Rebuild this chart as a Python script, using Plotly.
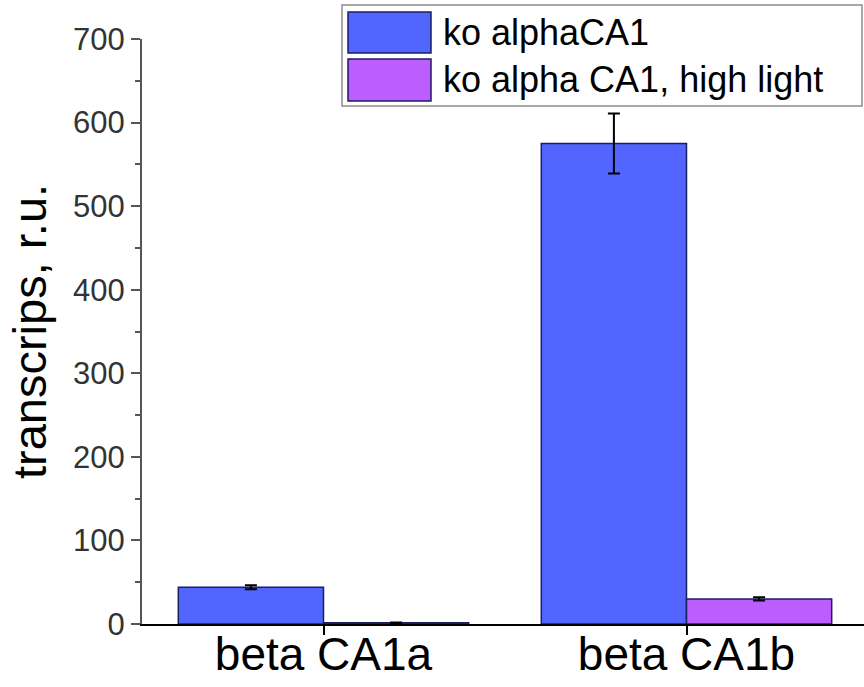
import plotly.graph_objects as go

# Data
categories = ["beta CA1a", "beta CA1b"]
series_names = ["ko alphaCA1", "ko alpha CA1, high light"]
ko_values = [44, 575]
ko_errors = [2.5, 36]
high_light_values = [1.5, 30]
high_light_errors = [0.4, 2]
y_ticks = [0, 100, 200, 300, 400, 500, 600, 700]

colors = ["#5266FF", "#BC5EFF"]
outline = "#1C1F5E"

# Figure geometry (pixels)
W, H = 864, 687
L, R, T, B = 142, 0, 39, 63
PW, PH = W - L - R, H - T - B


def px_x(p):
    return (p - L) / PW


def px_y(p):
    return (H - B - p) / PH


fig = go.Figure()
for name, vals, errs, col in [
    (series_names[0], ko_values, ko_errors, colors[0]),
    (series_names[1], high_light_values, high_light_errors, colors[1]),
]:
    fig.add_trace(go.Bar(
        x=categories, y=vals, name=name,
        marker=dict(color=col, line=dict(color=outline, width=1.5)),
        error_y=dict(type="data", array=errs, visible=True,
                     color="black", thickness=2, width=6),
        showlegend=False,
    ))

# Legend box drawn with shapes and text
shapes = [dict(type="rect", xref="paper", yref="paper",
               x0=px_x(342), x1=px_x(862), y0=px_y(106), y1=px_y(5),
               line=dict(color="#8C8C8C", width=1.5), fillcolor="white",
               layer="above")]
annotations = []
rows = [(12, 53), (59, 101)]
for (top, bot), name, col in zip(rows, series_names, colors):
    shapes.append(dict(type="rect", xref="paper", yref="paper",
                       x0=px_x(348), x1=px_x(431), y0=px_y(bot), y1=px_y(top),
                       line=dict(color=outline, width=1.5), fillcolor=col,
                       layer="above"))
    annotations.append(dict(xref="paper", yref="paper",
                            x=px_x(441), y=px_y((top + bot) / 2),
                            xanchor="left", yanchor="middle", showarrow=False,
                            text=name, font=dict(size=36, color="black")))

fig.update_layout(
    width=W, height=H,
    margin=dict(l=L, r=R, t=T, b=B, pad=0, autoexpand=False),
    barmode="group", bargap=0.2, bargroupgap=0,
    plot_bgcolor="white", paper_bgcolor="white",
    font=dict(family="Liberation Sans, Arial, sans-serif", color="black"),
    shapes=shapes, annotations=annotations,
    showlegend=False,
)
fig.update_xaxes(
    range=[-0.5, -0.5 + PW / 363], showline=True, linecolor="black",
    linewidth=2, ticks="outside", ticklen=9, tickwidth=1.5,
    tickcolor="black", tickfont=dict(size=46, color="black"),
    ticklabelstandoff=-20,
    showgrid=False, zeroline=False, automargin=False,
)
fig.update_yaxes(
    range=[0, 700], tickvals=y_ticks, showline=True, linecolor="#555555",
    linewidth=2, ticks="outside", ticklen=9, tickwidth=1.5,
    tickcolor="#555555", tickfont=dict(size=31, color="#333333"),
    minor=dict(dtick=50, ticks="outside", ticklen=5, tickcolor="#555555",
               tickwidth=1.5, showgrid=False),
    showgrid=False, zeroline=False, automargin=False,
    title=dict(text="transcrips, r.u.", font=dict(size=47, color="black"),
               standoff=12),
)

fig.write_html("out.html")
